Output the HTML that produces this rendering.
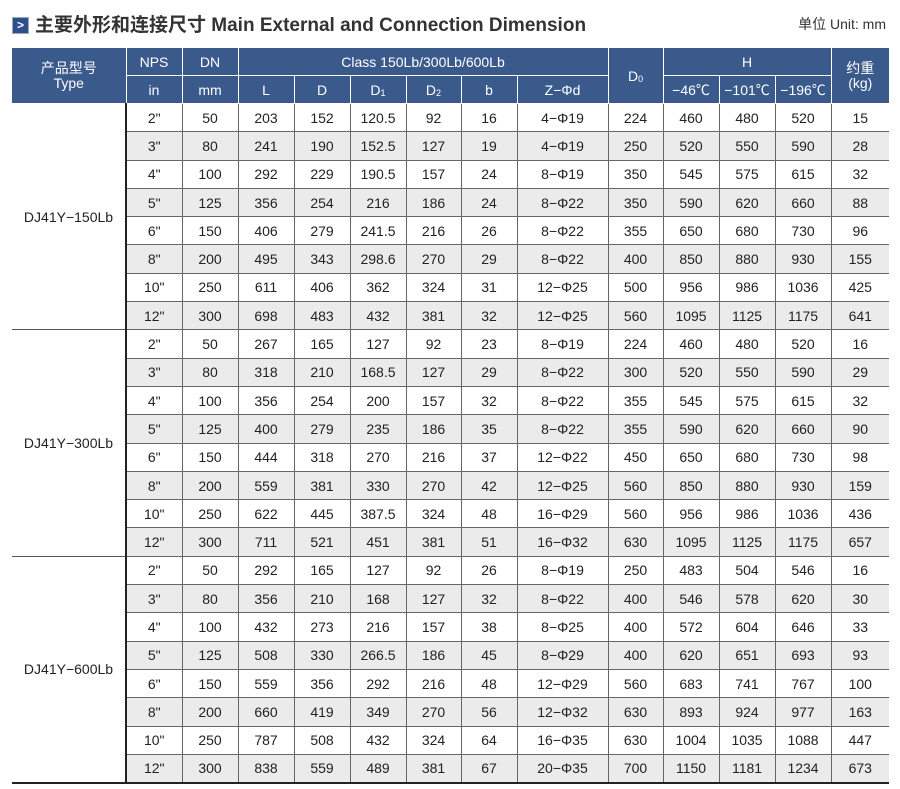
<!DOCTYPE html>
<html><head><meta charset="utf-8"><style>
body{margin:0;width:900px;height:789px;background:#fff;font-family:"Liberation Sans","Noto Sans CJK SC",sans-serif;position:relative;overflow:hidden}
.title{position:absolute;left:12px;top:10px;font-size:19px;font-weight:bold;color:#333;white-space:nowrap}
.title .ic{display:inline-block;width:15px;height:15px;background:#2d4f8c;color:#fff;font-size:12px;line-height:15px;text-align:center;vertical-align:2px;margin-right:6px;border:1px solid #9ab}
.unit{position:absolute;right:14px;top:14px;font-size:14px;color:#333}
table{position:absolute;left:12px;top:47px;border-collapse:collapse;table-layout:fixed;width:877px;font-size:14px;color:#222}
td{padding:0;text-align:center;vertical-align:middle;border:1px solid #666;height:27.3px;white-space:nowrap}
th{background:#3b5a8c;color:#fff;font-weight:normal;border:1px solid #fff;height:27px;padding:0;font-size:14px}
tr.g td.d{background:#ebebeb}
td.t{border-left:none;border-bottom:1px solid #555;background:#fff}
td.n{border-left:2px solid #222}
tr.last td{border-bottom:2px solid #222}
td.kg{border-right:none}
sub{font-size:9px;vertical-align:-1px}
</style></head><body>
<div class="title"><span class="ic">&gt;</span>主要外形和连接尺寸 Main External and Connection Dimension</div>
<div class="unit">单位 Unit: mm</div>
<table>
<colgroup><col style="width:114px"><col style="width:56px"><col style="width:56px"><col style="width:56px"><col style="width:56px"><col style="width:56px"><col style="width:55px"><col style="width:56px"><col style="width:91px"><col style="width:55px"><col style="width:56px"><col style="width:56px"><col style="width:56px"><col style="width:58px"></colgroup>
<tr><th rowspan="2" style="border-left:none;line-height:15px">产品型号<br>Type</th><th>NPS</th><th>DN</th><th colspan="6">Class 150Lb/300Lb/600Lb</th><th rowspan="2">D<sub>0</sub></th><th colspan="3">H</th><th rowspan="2" style="border-right:none;line-height:15px">约重<br>(kg)</th></tr>
<tr><th>in</th><th>mm</th><th>L</th><th>D</th><th>D<sub>1</sub></th><th>D<sub>2</sub></th><th>b</th><th>Z−Φd</th><th>−46℃</th><th>−101℃</th><th>−196℃</th></tr>
<tr><td class="t" rowspan="8">DJ41Y−150Lb</td><td class="d n">2"</td><td class="d">50</td><td class="d">203</td><td class="d">152</td><td class="d">120.5</td><td class="d">92</td><td class="d">16</td><td class="d">4−Φ19</td><td class="d">224</td><td class="d">460</td><td class="d">480</td><td class="d">520</td><td class="d kg">15</td></tr>
<tr class="g"><td class="d n">3"</td><td class="d">80</td><td class="d">241</td><td class="d">190</td><td class="d">152.5</td><td class="d">127</td><td class="d">19</td><td class="d">4−Φ19</td><td class="d">250</td><td class="d">520</td><td class="d">550</td><td class="d">590</td><td class="d kg">28</td></tr>
<tr><td class="d n">4"</td><td class="d">100</td><td class="d">292</td><td class="d">229</td><td class="d">190.5</td><td class="d">157</td><td class="d">24</td><td class="d">8−Φ19</td><td class="d">350</td><td class="d">545</td><td class="d">575</td><td class="d">615</td><td class="d kg">32</td></tr>
<tr class="g"><td class="d n">5"</td><td class="d">125</td><td class="d">356</td><td class="d">254</td><td class="d">216</td><td class="d">186</td><td class="d">24</td><td class="d">8−Φ22</td><td class="d">350</td><td class="d">590</td><td class="d">620</td><td class="d">660</td><td class="d kg">88</td></tr>
<tr><td class="d n">6"</td><td class="d">150</td><td class="d">406</td><td class="d">279</td><td class="d">241.5</td><td class="d">216</td><td class="d">26</td><td class="d">8−Φ22</td><td class="d">355</td><td class="d">650</td><td class="d">680</td><td class="d">730</td><td class="d kg">96</td></tr>
<tr class="g"><td class="d n">8"</td><td class="d">200</td><td class="d">495</td><td class="d">343</td><td class="d">298.6</td><td class="d">270</td><td class="d">29</td><td class="d">8−Φ22</td><td class="d">400</td><td class="d">850</td><td class="d">880</td><td class="d">930</td><td class="d kg">155</td></tr>
<tr><td class="d n">10"</td><td class="d">250</td><td class="d">611</td><td class="d">406</td><td class="d">362</td><td class="d">324</td><td class="d">31</td><td class="d">12−Φ25</td><td class="d">500</td><td class="d">956</td><td class="d">986</td><td class="d">1036</td><td class="d kg">425</td></tr>
<tr class="g"><td class="d n">12"</td><td class="d">300</td><td class="d">698</td><td class="d">483</td><td class="d">432</td><td class="d">381</td><td class="d">32</td><td class="d">12−Φ25</td><td class="d">560</td><td class="d">1095</td><td class="d">1125</td><td class="d">1175</td><td class="d kg">641</td></tr>
<tr><td class="t" rowspan="8">DJ41Y−300Lb</td><td class="d n">2"</td><td class="d">50</td><td class="d">267</td><td class="d">165</td><td class="d">127</td><td class="d">92</td><td class="d">23</td><td class="d">8−Φ19</td><td class="d">224</td><td class="d">460</td><td class="d">480</td><td class="d">520</td><td class="d kg">16</td></tr>
<tr class="g"><td class="d n">3"</td><td class="d">80</td><td class="d">318</td><td class="d">210</td><td class="d">168.5</td><td class="d">127</td><td class="d">29</td><td class="d">8−Φ22</td><td class="d">300</td><td class="d">520</td><td class="d">550</td><td class="d">590</td><td class="d kg">29</td></tr>
<tr><td class="d n">4"</td><td class="d">100</td><td class="d">356</td><td class="d">254</td><td class="d">200</td><td class="d">157</td><td class="d">32</td><td class="d">8−Φ22</td><td class="d">355</td><td class="d">545</td><td class="d">575</td><td class="d">615</td><td class="d kg">32</td></tr>
<tr class="g"><td class="d n">5"</td><td class="d">125</td><td class="d">400</td><td class="d">279</td><td class="d">235</td><td class="d">186</td><td class="d">35</td><td class="d">8−Φ22</td><td class="d">355</td><td class="d">590</td><td class="d">620</td><td class="d">660</td><td class="d kg">90</td></tr>
<tr><td class="d n">6"</td><td class="d">150</td><td class="d">444</td><td class="d">318</td><td class="d">270</td><td class="d">216</td><td class="d">37</td><td class="d">12−Φ22</td><td class="d">450</td><td class="d">650</td><td class="d">680</td><td class="d">730</td><td class="d kg">98</td></tr>
<tr class="g"><td class="d n">8"</td><td class="d">200</td><td class="d">559</td><td class="d">381</td><td class="d">330</td><td class="d">270</td><td class="d">42</td><td class="d">12−Φ25</td><td class="d">560</td><td class="d">850</td><td class="d">880</td><td class="d">930</td><td class="d kg">159</td></tr>
<tr><td class="d n">10"</td><td class="d">250</td><td class="d">622</td><td class="d">445</td><td class="d">387.5</td><td class="d">324</td><td class="d">48</td><td class="d">16−Φ29</td><td class="d">560</td><td class="d">956</td><td class="d">986</td><td class="d">1036</td><td class="d kg">436</td></tr>
<tr class="g"><td class="d n">12"</td><td class="d">300</td><td class="d">711</td><td class="d">521</td><td class="d">451</td><td class="d">381</td><td class="d">51</td><td class="d">16−Φ32</td><td class="d">630</td><td class="d">1095</td><td class="d">1125</td><td class="d">1175</td><td class="d kg">657</td></tr>
<tr><td class="t" rowspan="8" style="border-bottom:2px solid #222">DJ41Y−600Lb</td><td class="d n">2"</td><td class="d">50</td><td class="d">292</td><td class="d">165</td><td class="d">127</td><td class="d">92</td><td class="d">26</td><td class="d">8−Φ19</td><td class="d">250</td><td class="d">483</td><td class="d">504</td><td class="d">546</td><td class="d kg">16</td></tr>
<tr class="g"><td class="d n">3"</td><td class="d">80</td><td class="d">356</td><td class="d">210</td><td class="d">168</td><td class="d">127</td><td class="d">32</td><td class="d">8−Φ22</td><td class="d">400</td><td class="d">546</td><td class="d">578</td><td class="d">620</td><td class="d kg">30</td></tr>
<tr><td class="d n">4"</td><td class="d">100</td><td class="d">432</td><td class="d">273</td><td class="d">216</td><td class="d">157</td><td class="d">38</td><td class="d">8−Φ25</td><td class="d">400</td><td class="d">572</td><td class="d">604</td><td class="d">646</td><td class="d kg">33</td></tr>
<tr class="g"><td class="d n">5"</td><td class="d">125</td><td class="d">508</td><td class="d">330</td><td class="d">266.5</td><td class="d">186</td><td class="d">45</td><td class="d">8−Φ29</td><td class="d">400</td><td class="d">620</td><td class="d">651</td><td class="d">693</td><td class="d kg">93</td></tr>
<tr><td class="d n">6"</td><td class="d">150</td><td class="d">559</td><td class="d">356</td><td class="d">292</td><td class="d">216</td><td class="d">48</td><td class="d">12−Φ29</td><td class="d">560</td><td class="d">683</td><td class="d">741</td><td class="d">767</td><td class="d kg">100</td></tr>
<tr class="g"><td class="d n">8"</td><td class="d">200</td><td class="d">660</td><td class="d">419</td><td class="d">349</td><td class="d">270</td><td class="d">56</td><td class="d">12−Φ32</td><td class="d">630</td><td class="d">893</td><td class="d">924</td><td class="d">977</td><td class="d kg">163</td></tr>
<tr><td class="d n">10"</td><td class="d">250</td><td class="d">787</td><td class="d">508</td><td class="d">432</td><td class="d">324</td><td class="d">64</td><td class="d">16−Φ35</td><td class="d">630</td><td class="d">1004</td><td class="d">1035</td><td class="d">1088</td><td class="d kg">447</td></tr>
<tr class="g last"><td class="d n">12"</td><td class="d">300</td><td class="d">838</td><td class="d">559</td><td class="d">489</td><td class="d">381</td><td class="d">67</td><td class="d">20−Φ35</td><td class="d">700</td><td class="d">1150</td><td class="d">1181</td><td class="d">1234</td><td class="d kg">673</td></tr>
</table>
</body></html>
